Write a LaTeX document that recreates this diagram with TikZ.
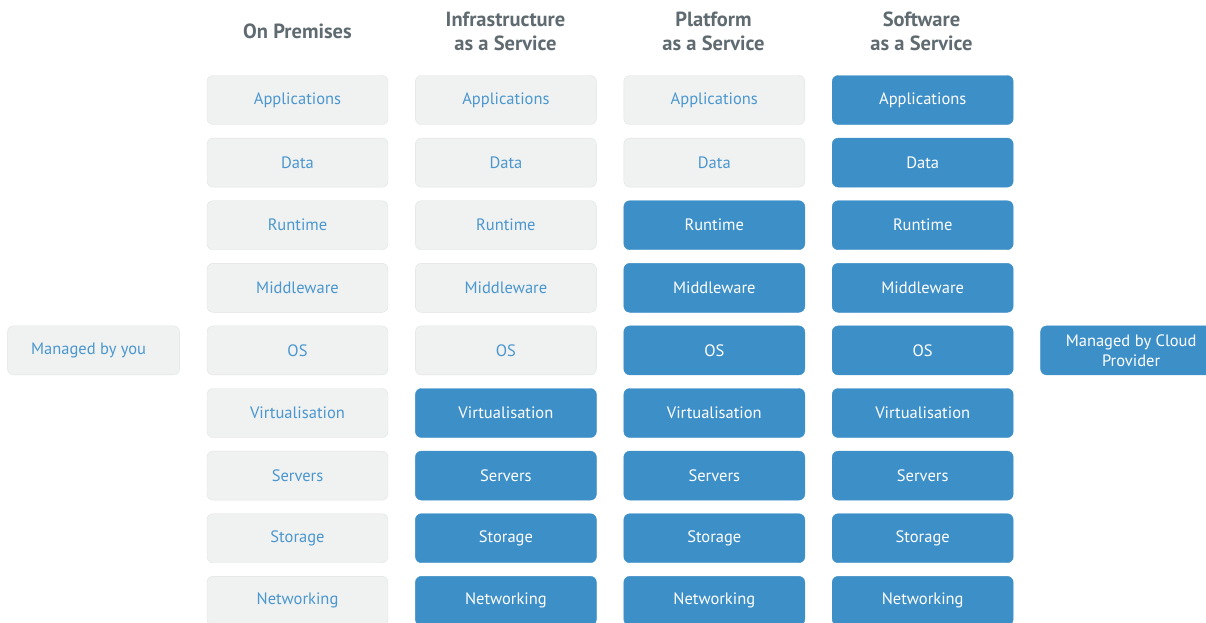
\documentclass[tikz,border=0pt]{standalone}
\usepackage{fontspec}
\setmainfont{PT Sans}
\usepackage{tikz}
\usetikzlibrary{positioning}
\definecolor{cloudblue}{HTML}{3D8FC8}
\definecolor{youblue}{HTML}{4A97CF}
\definecolor{boxgray}{HTML}{F0F1F1}
\definecolor{edgegray}{HTML}{E1E3E3}
\definecolor{headgray}{HTML}{5F6B70}
\tikzstyle{you} = [rectangle, rounded corners=6pt, minimum width=181pt, minimum height=49pt, text centered, draw=edgegray, fill=boxgray, text=youblue, font=\fontsize{16.5}{18}\selectfont]
\tikzstyle{cloud} = [rectangle, rounded corners=6pt, minimum width=181pt, minimum height=49pt, text centered, draw=cloudblue, fill=cloudblue, text=white, font=\fontsize{16.5}{18}\selectfont]
\tikzstyle{header} = [text=headgray, align=center, font=\bfseries\fontsize{20.5}{24}\selectfont]
\begin{document}
\begin{tikzpicture}[x=1pt, y=1pt, node distance=13.2pt and 27pt]
      \useasboundingbox (0,0) rectangle (1206,-622);
      % column headers
      \node (h1) [header] at (297.5,-31) {On Premises};
      \node (h2) [header] at (505.5,-31) {Infrastructure\\as a Service};
      \node (h3) [header] at (713.5,-31) {Platform\\as a Service};
      \node (h4) [header] at (921.5,-31) {Software\\as a Service};
      % on premises
      \node (app1) [you] at (297.5,-100) {Applications};
      \node (dat1) [you, below=of app1] {Data};
      \node (run1) [you, below=of dat1] {Runtime};
      \node (mid1) [you, below=of run1] {Middleware};
      \node (os1) [you, below=of mid1] {OS};
      \node (vir1) [you, below=of os1] {Virtualisation};
      \node (ser1) [you, below=of vir1] {Servers};
      \node (sto1) [you, below=of ser1] {Storage};
      \node (net1) [you, below=of sto1] {Networking};
      % infrastructure as a service
      \node (app2) [you, right=of app1] {Applications};
      \node (dat2) [you, below=of app2] {Data};
      \node (run2) [you, below=of dat2] {Runtime};
      \node (mid2) [you, below=of run2] {Middleware};
      \node (os2) [you, below=of mid2] {OS};
      \node (vir2) [cloud, below=of os2] {Virtualisation};
      \node (ser2) [cloud, below=of vir2] {Servers};
      \node (sto2) [cloud, below=of ser2] {Storage};
      \node (net2) [cloud, below=of sto2] {Networking};
      % platform as a service
      \node (app3) [you, right=of app2] {Applications};
      \node (dat3) [you, below=of app3] {Data};
      \node (run3) [cloud, below=of dat3] {Runtime};
      \node (mid3) [cloud, below=of run3] {Middleware};
      \node (os3) [cloud, below=of mid3] {OS};
      \node (vir3) [cloud, below=of os3] {Virtualisation};
      \node (ser3) [cloud, below=of vir3] {Servers};
      \node (sto3) [cloud, below=of ser3] {Storage};
      \node (net3) [cloud, below=of sto3] {Networking};
      % software as a service
      \node (app4) [cloud, right=of app3] {Applications};
      \node (dat4) [cloud, below=of app4] {Data};
      \node (run4) [cloud, below=of dat4] {Runtime};
      \node (mid4) [cloud, below=of run4] {Middleware};
      \node (os4) [cloud, below=of mid4] {OS};
      \node (vir4) [cloud, below=of os4] {Virtualisation};
      \node (ser4) [cloud, below=of vir4] {Servers};
      \node (sto4) [cloud, below=of ser4] {Storage};
      \node (net4) [cloud, below=of sto4] {Networking};
      % legend
      \node (byyou) [you, minimum width=172pt, left=27pt of os1] {Managed by you\kern10pt};
      \node (bycloud) [cloud, minimum width=181pt, right=27pt of os4, align=center, font=\fontsize{16.5}{20}\selectfont] {Managed by Cloud\\Provider};
    \end{tikzpicture}
\end{document}
